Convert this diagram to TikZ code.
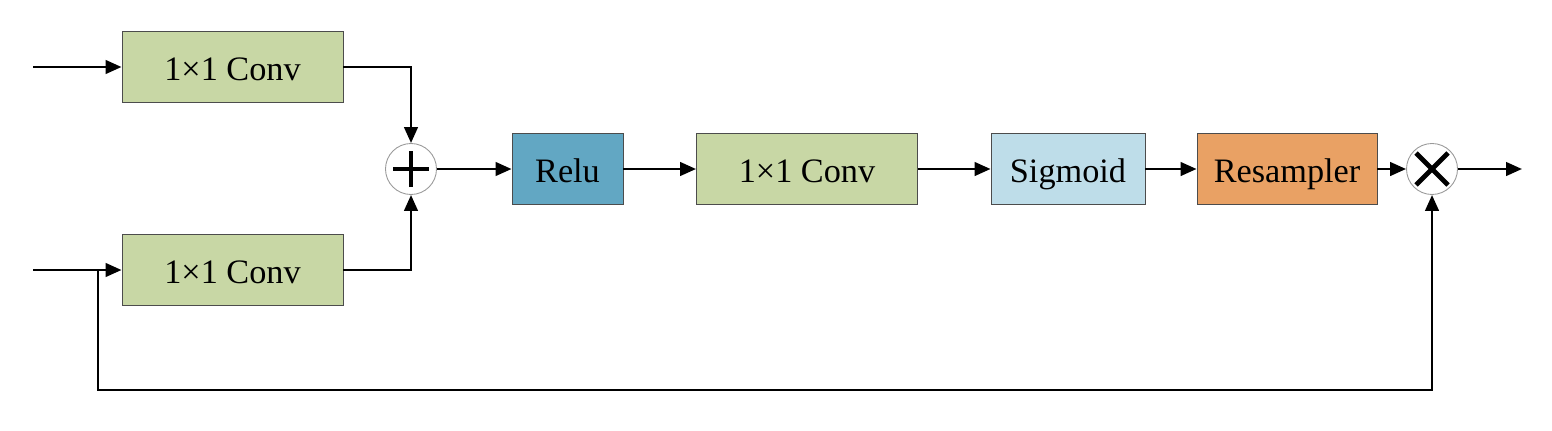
\documentclass[tikz,border=0pt]{standalone}
\usepackage{fontspec}
\setmainfont{Liberation Serif}
\usetikzlibrary{arrows.meta,positioning,calc}

\begin{document}
\begin{tikzpicture}[
  block/.style={draw=gray!60!black,line width=0.5pt,minimum width=4.42cm,minimum height=1.42cm,inner sep=0pt,text height=0.6cm,text depth=0.08cm,font=\fontsize{19.5}{23}\selectfont},
  conv/.style={block,fill=convgreen},
  op/.style={circle,draw=gray!80,line width=0.5pt,fill=white,minimum size=1.02cm,inner sep=0pt},
  flow/.style={-{Triangle[length=0.32cm,width=0.27cm]},line width=1.6pt}]
\definecolor{convgreen}{RGB}{200,215,165}
\definecolor{relublue}{RGB}{98,167,195}
\definecolor{sigblue}{RGB}{190,221,233}
\definecolor{resorange}{RGB}{233,161,100}
\useasboundingbox (0,0) rectangle (31.04,-8.6);
% inputs
\coordinate (in1) at (0.66,-1.34);
\coordinate (in2) at (0.66,-5.4);
\coordinate (br) at (1.96,-5.4);
\node[conv] (conv1) at (4.65,-1.34) {1×1 Conv};
\node[conv] (conv2) at (4.65,-5.4) {1×1 Conv};
\node[op,path picture={\draw[black,line width=2.5pt] ($(path picture bounding box.center)+(-0.36,0)$) -- ++(0.72,0) ($(path picture bounding box.center)+(0,-0.36)$) -- ++(0,0.72);}] (plus) at (8.22,-3.38) {};
\node[block,fill=relublue,minimum width=2.22cm] (relu) at (11.35,-3.38) {Relu};
\node[conv] (conv3) at (16.14,-3.38) {1×1 Conv};
\node[block,fill=sigblue,minimum width=3.08cm] (sig) at (21.36,-3.38) {Sigmoid};
\node[block,fill=resorange,minimum width=3.6cm] (res) at (25.74,-3.38) {Resampler};
\node[op,path picture={\draw[black,line width=2.7pt] ($(path picture bounding box.center)+(-0.32,-0.32)$) -- ++(0.64,0.64) ($(path picture bounding box.center)+(-0.32,0.32)$) -- ++(0.64,-0.64);}] (times) at (28.64,-3.38) {};
\coordinate (out) at (30.44,-3.38);
% connectors
\draw[flow] (in1) -- (conv1);
\draw[flow] (in2) -- (conv2);
\draw[flow] (conv1.east) -| (plus.north);
\draw[flow] (conv2.east) -| (plus.south);
\draw[flow] (plus) -- (relu);
\draw[flow] (relu) -- (conv3);
\draw[flow] (conv3) -- (sig);
\draw[flow] (sig) -- (res);
\draw[flow] (res) -- (times);
\draw[flow] (times) -- (out);
\draw[flow] (br) -- ++(0,-2.4) -| (times.south);
\end{tikzpicture}
\end{document}
